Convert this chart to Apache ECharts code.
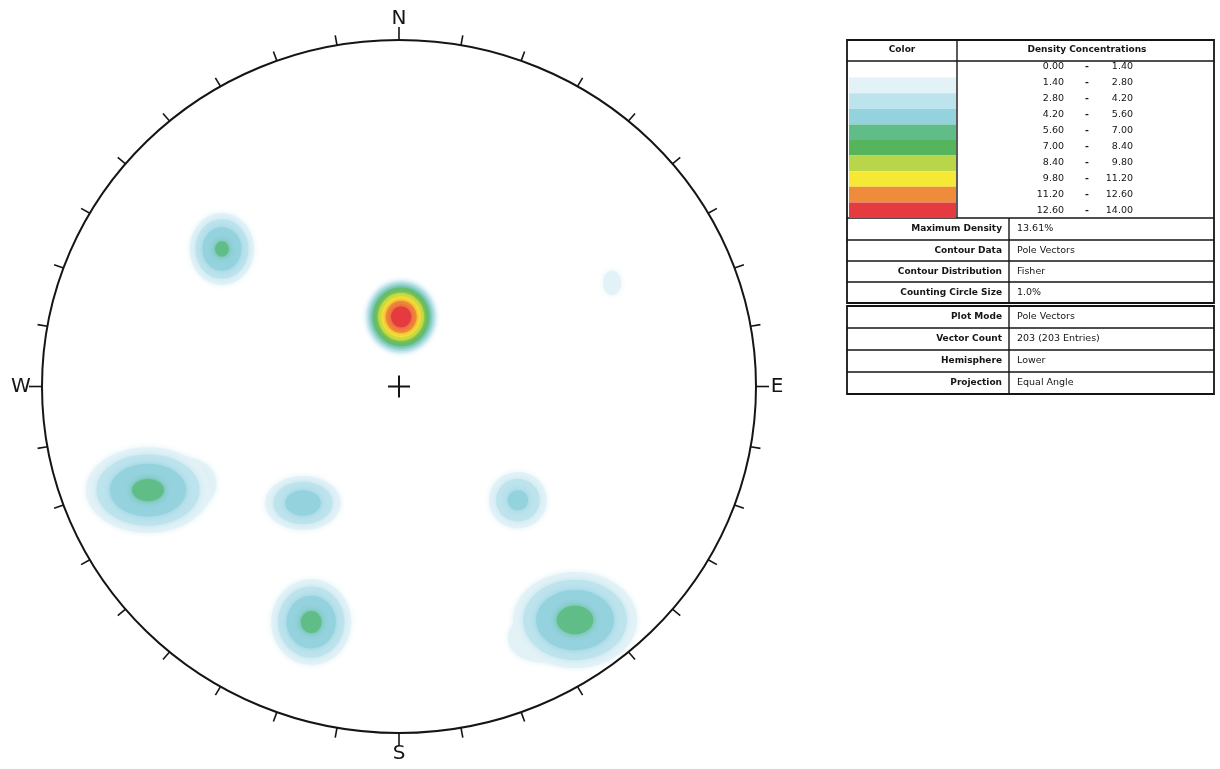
<!DOCTYPE html>
<html><head><meta charset="utf-8">
<script src="https://cdn.jsdelivr.net/npm/echarts@6/dist/echarts.min.js"></script>
<style>html,body{margin:0;padding:0;background:#fff}#chart{width:1220px;height:769px}</style>
</head><body><div id="chart"></div>
<script>
// ---------- data ----------
const densityBreaks = [0.00, 1.40, 2.80, 4.20, 5.60, 7.00, 8.40, 9.80, 11.20, 12.60, 14.00];
const densityColors = ['#ffffff', '#e2f2f7', '#bde3ed', '#94d2de', '#60bd88', '#56b45c', '#b9d64a', '#f5e935', '#ef8c3b', '#e43a40'];

// density concentrations (stereonet units: primitive radius = 1)
const clusterNames  = ['NE faint', 'W lobe', 'SE lobe', 'W', 'Mid', 'E', 'S', 'SE', 'NW', 'Central'];
const clusterX      = [0.597, -0.591, 0.395, -0.703, -0.269, 0.333, -0.246, 0.493, -0.496, 0.006];
const clusterY      = [0.299, -0.281, -0.726, -0.299, -0.336, -0.328, -0.680, -0.674, 0.397, 0.201];
const clusterPeak   = [2.0, 4.0, 3.0, 5.9, 5.0, 4.6, 5.9, 6.0, 5.8, 13.61];
const clusterSpreadX = [0.025, 0.080, 0.090, 0.174, 0.106, 0.081, 0.112, 0.174, 0.090, 0.098];
const clusterSpreadY = [0.035, 0.075, 0.070, 0.124, 0.078, 0.081, 0.124, 0.139, 0.104, 0.105];

const tickAzimuths = [0,10,20,30,40,50,60,70,80,90,100,110,120,130,140,150,160,170,180,190,200,210,220,230,240,250,260,270,280,290,300,310,320,330,340,350];
const compassLabels = ['N', 'E', 'S', 'W'];
const compassPoints = [[0, 1], [1, 0], [0, -1], [-1, 0]];

const headerLabels = ['Color', 'Density Concentrations'];
const summaryLabels = ['Maximum Density', 'Contour Data', 'Contour Distribution', 'Counting Circle Size'];
const summaryValues = ['13.61%', 'Pole Vectors', 'Fisher', '1.0%'];
const plotLabels = ['Plot Mode', 'Vector Count', 'Hemisphere', 'Projection'];
const plotValues = ['Pole Vectors', '203 (203 Entries)', 'Lower', 'Equal Angle'];

// ---------- chart ----------
const chart = echarts.init(document.getElementById('chart'));
const FONT = '"DejaVu Sans", Verdana, sans-serif';

const densityData = clusterX.map((x, i) => [x, clusterY[i], clusterPeak[i], clusterSpreadX[i], clusterSpreadY[i]]);
const tickData = tickAzimuths.map(a => [Math.sin(a * Math.PI / 180), Math.cos(a * Math.PI / 180), a]);

function renderDensity(params, api) {
  const c = api.coord([api.value(0), api.value(1)]);
  const peak = api.value(2);
  const s = api.size([api.value(3), api.value(4)]);
  const children = [];
  for (let k = 1; k < densityBreaks.length - 1; k++) {
    const L = densityBreaks[k];
    if (L >= peak) break;
    const f = Math.sqrt((peak - L) / (peak - densityBreaks[1]));
    children.push({
      type: 'ellipse',
      shape: { cx: c[0], cy: c[1], rx: s[0] * f, ry: s[1] * f },
      style: { fill: densityColors[k], shadowBlur: 6, shadowColor: densityColors[k] }
    });
  }
  return { type: 'group', children };
}

function renderPrimitive(params, api) {
  const c = api.coord([0, 0]);
  const s = api.size([1, 1]);
  return {
    type: 'group',
    children: [
      { type: 'ellipse', shape: { cx: c[0], cy: c[1], rx: s[0], ry: s[1] }, style: { fill: null, stroke: '#151515', lineWidth: 2 } },
      { type: 'line', shape: { x1: c[0] - 11, y1: c[1], x2: c[0] + 11, y2: c[1] }, style: { stroke: '#151515', lineWidth: 2 } },
      { type: 'line', shape: { x1: c[0], y1: c[1] - 11, x2: c[0], y2: c[1] + 11 }, style: { stroke: '#151515', lineWidth: 2 } }
    ]
  };
}

function renderTick(params, api) {
  const c = api.coord([0, 0]);
  const p = api.coord([api.value(0), api.value(1)]);
  const dx = p[0] - c[0], dy = p[1] - c[1];
  const d = Math.sqrt(dx * dx + dy * dy);
  const az = api.value(2);
  const len = (az % 90 === 0) ? 13 : 10;
  return {
    type: 'line',
    shape: { x1: p[0], y1: p[1], x2: p[0] + dx / d * len, y2: p[1] + dy / d * len },
    style: { stroke: '#151515', lineWidth: 1.6 }
  };
}

function renderCompass(params, api) {
  const c = api.coord([0, 0]);
  const p = api.coord([api.value(0), api.value(1)]);
  const dx = p[0] - c[0], dy = p[1] - c[1];
  const d = Math.sqrt(dx * dx + dy * dy);
  const off = 21;
  return {
    type: 'text',
    x: p[0] + dx / d * off,
    y: p[1] + dy / d * off,
    style: { text: compassLabels[params.dataIndex], font: '20px ' + FONT, fill: '#151515', align: 'center', verticalAlign: 'middle' }
  };
}

// ---------- table (graphic) ----------
const g = [];
const INK = '#151515';
function hline(x1, x2, y, w) { g.push({ type: 'line', silent: true, shape: { x1, y1: y, x2, y2: y }, style: { stroke: INK, lineWidth: w || 1.4 } }); }
function vline(x, y1, y2, w) { g.push({ type: 'line', silent: true, shape: { x1: x, y1, x2: x, y2 }, style: { stroke: INK, lineWidth: w || 1.4 } }); }
function text(x, y, t, align, bold, size) {
  g.push({ type: 'text', silent: true, x, y, style: { text: t, align, verticalAlign: 'middle', fill: INK, font: (bold ? 'bold ' : '') + (size || 9) + 'px ' + FONT } });
}
const TL = 847, TR = 1214;
// table 1
g.push({ type: 'rect', silent: true, shape: { x: TL, y: 40, width: TR - TL, height: 263 }, style: { fill: null, stroke: INK, lineWidth: 1.8 } });
hline(TL, TR, 61);
hline(TL, TR, 218);
vline(957, 40, 218);
text(902, 50, headerLabels[0], 'center', true, 9);
text(1087, 50, headerLabels[1], 'center', true, 9);
for (let k = 0; k < densityBreaks.length - 1; k++) {
  const y = 67 + 16 * k;
  text(1064, y, densityBreaks[k].toFixed(2), 'right', false, 9.5);
  text(1087, y, '-', 'center', true, 9.5);
  text(1133, y, densityBreaks[k + 1].toFixed(2), 'right', false, 9.5);
}
const rows1 = [218, 240, 261, 282, 303];
for (let i = 0; i < summaryLabels.length; i++) {
  if (i > 0) hline(TL, TR, rows1[i]);
  const yc = (rows1[i] + rows1[i + 1]) / 2;
  text(1002, yc, summaryLabels[i], 'right', true, 9);
  text(1017, yc, summaryValues[i], 'left', false, 9.5);
}
vline(1009, 218, 303);
// table 2
const rows2 = [306, 328, 350, 372, 394];
g.push({ type: 'rect', silent: true, shape: { x: TL, y: 306, width: TR - TL, height: 88 }, style: { fill: null, stroke: INK, lineWidth: 1.8 } });
for (let i = 0; i < plotLabels.length; i++) {
  if (i > 0) hline(TL, TR, rows2[i]);
  const yc = (rows2[i] + rows2[i + 1]) / 2;
  text(1002, yc, plotLabels[i], 'right', true, 9);
  text(1017, yc, plotValues[i], 'left', false, 9.5);
}
vline(1009, 306, 394);

const option = {
  backgroundColor: '#ffffff',
  animation: false,
  grid: { left: 42, right: 464, top: 40, bottom: 36 },
  xAxis: { type: 'value', min: -1, max: 1, show: false },
  yAxis: { type: 'value', min: -1, max: 1, show: false },
  visualMap: {
    type: 'piecewise', show: true, seriesIndex: 0, dimension: 2,
    pieces: densityBreaks.slice(0, -1).map((b, i) => ({ min: b, max: densityBreaks[i + 1], color: densityColors[i] })),
    orient: 'vertical', inverse: true, left: 849, top: 62,
    itemWidth: 107, itemHeight: 15.6, itemGap: 0, itemSymbol: 'rect', padding: 0,
    textGap: 0, formatter: () => '', selectedMode: false, hoverLink: false
  },
  graphic: g,
  series: [
    { type: 'custom', name: 'Density', coordinateSystem: 'cartesian2d', renderItem: renderDensity, data: densityData, encode: { x: 0, y: 1 }, silent: true, z: 2 },
    { type: 'custom', name: 'Primitive', coordinateSystem: 'cartesian2d', renderItem: renderPrimitive, data: [[0, 0]], encode: { x: 0, y: 1 }, silent: true, z: 3 },
    { type: 'custom', name: 'Ticks', coordinateSystem: 'cartesian2d', renderItem: renderTick, data: tickData, encode: { x: 0, y: 1 }, silent: true, z: 3 },
    { type: 'custom', name: 'Compass', coordinateSystem: 'cartesian2d', renderItem: renderCompass, data: compassPoints, encode: { x: 0, y: 1 }, silent: true, z: 3 }
  ]
};
chart.setOption(option);
</script>
</body></html>
